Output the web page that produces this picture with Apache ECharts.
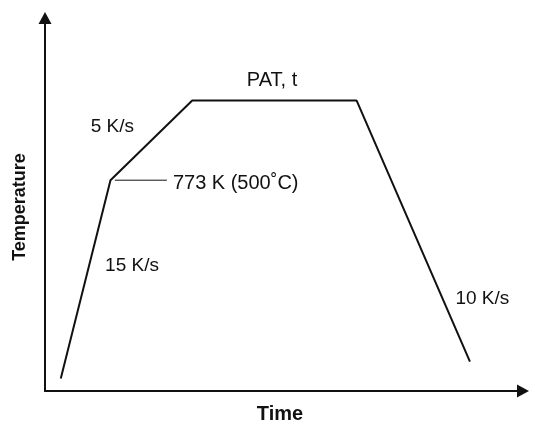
<!DOCTYPE html>
<html>
<head>
<meta charset="utf-8">
<script src="https://cdn.jsdelivr.net/npm/echarts@6/dist/echarts.min.js"></script>
<style>
  html, body { margin: 0; padding: 0; background: #fff; }
  #chart { width: 535px; height: 425px; }
</style>
</head>
<body>
<div id="chart"></div>
<script>
// Heat-treatment schedule: heat at 15 K/s to 773 K, then 5 K/s to the
// PAT hold, hold for time t, then cool at 10 K/s.
const timePoints = [3.3, 13.7, 30.8, 65.2, 88.9];       // arbitrary time units
const tempPoints = [300, 773, 963, 963, 340];           // K

// Leader line from the 773 K knee out to its label
const leaderTime = [14.6, 25.5];
const leaderTemp = [773, 773];
const leaderText = '773 K (500˚C)';

// Rate / hold annotations, anchored in data space
const noteText = ['5 K/s', '15 K/s', '10 K/s', 'PAT, t'];
const noteTime = [14.1, 18.2, 91.5, 47.5];
const noteTemp = [900, 568, 490, 1012];
const noteSize = [19, 19, 19, 20];

const axisNames = { x: 'Time', y: 'Temperature' };

const ink = '#111';
const font = 'Arial, "Liberation Sans", sans-serif';

const chart = echarts.init(document.getElementById('chart'));
chart.setOption({
  animation: false,
  backgroundColor: '#fff',
  grid: { left: 45, right: 12, top: 18, bottom: 34, containLabel: false, outerBoundsMode: 'none' },
  xAxis: {
    type: 'value', min: 0, max: 100,
    name: axisNames.x, nameLocation: 'middle', nameGap: 13,
    nameTextStyle: { fontFamily: font, fontSize: 20, fontWeight: 'bold', color: ink, padding: [0, 8, 0, 0] },
    axisLine: { show: true, symbol: ['none', 'triangle'], symbolSize: [13, 12], lineStyle: { color: ink, width: 2 } },
    axisTick: { show: false }, axisLabel: { show: false }, splitLine: { show: false }
  },
  yAxis: {
    type: 'value', min: 270, max: 1160,
    name: axisNames.y, nameLocation: 'middle', nameGap: 16,
    nameTextStyle: { fontFamily: font, fontSize: 18, fontWeight: 'bold', color: ink, padding: [0, 5, 0, 0] },
    axisLine: { show: true, symbol: ['none', 'triangle'], symbolSize: [13, 12], lineStyle: { color: ink, width: 2 } },
    axisTick: { show: false }, axisLabel: { show: false }, splitLine: { show: false }
  },
  series: [
    {
      type: 'line',
      data: timePoints.map((t, i) => [t, tempPoints[i]]),
      showSymbol: false, symbol: 'none',
      lineStyle: { color: ink, width: 2 }
    },
    {
      type: 'line',
      data: leaderTime.map((t, i) => [t, leaderTemp[i]]),
      symbol: 'none',
      lineStyle: { color: ink, width: 1 },
      endLabel: {
        show: true, formatter: leaderText, distance: 6, offset: [0, 3],
        fontFamily: font, fontSize: 20, color: ink
      }
    },
    {
      type: 'scatter',
      data: noteText.map((s, i) => ({
        value: [noteTime[i], noteTemp[i]], name: s,
        label: { fontSize: noteSize[i] }
      })),
      symbolSize: 0,
      itemStyle: { opacity: 1, color: 'transparent' },
      label: {
        show: true, position: 'inside', formatter: p => p.name,
        fontFamily: font, color: ink, opacity: 1
      }
    }
  ]
});
</script>
</body>
</html>
